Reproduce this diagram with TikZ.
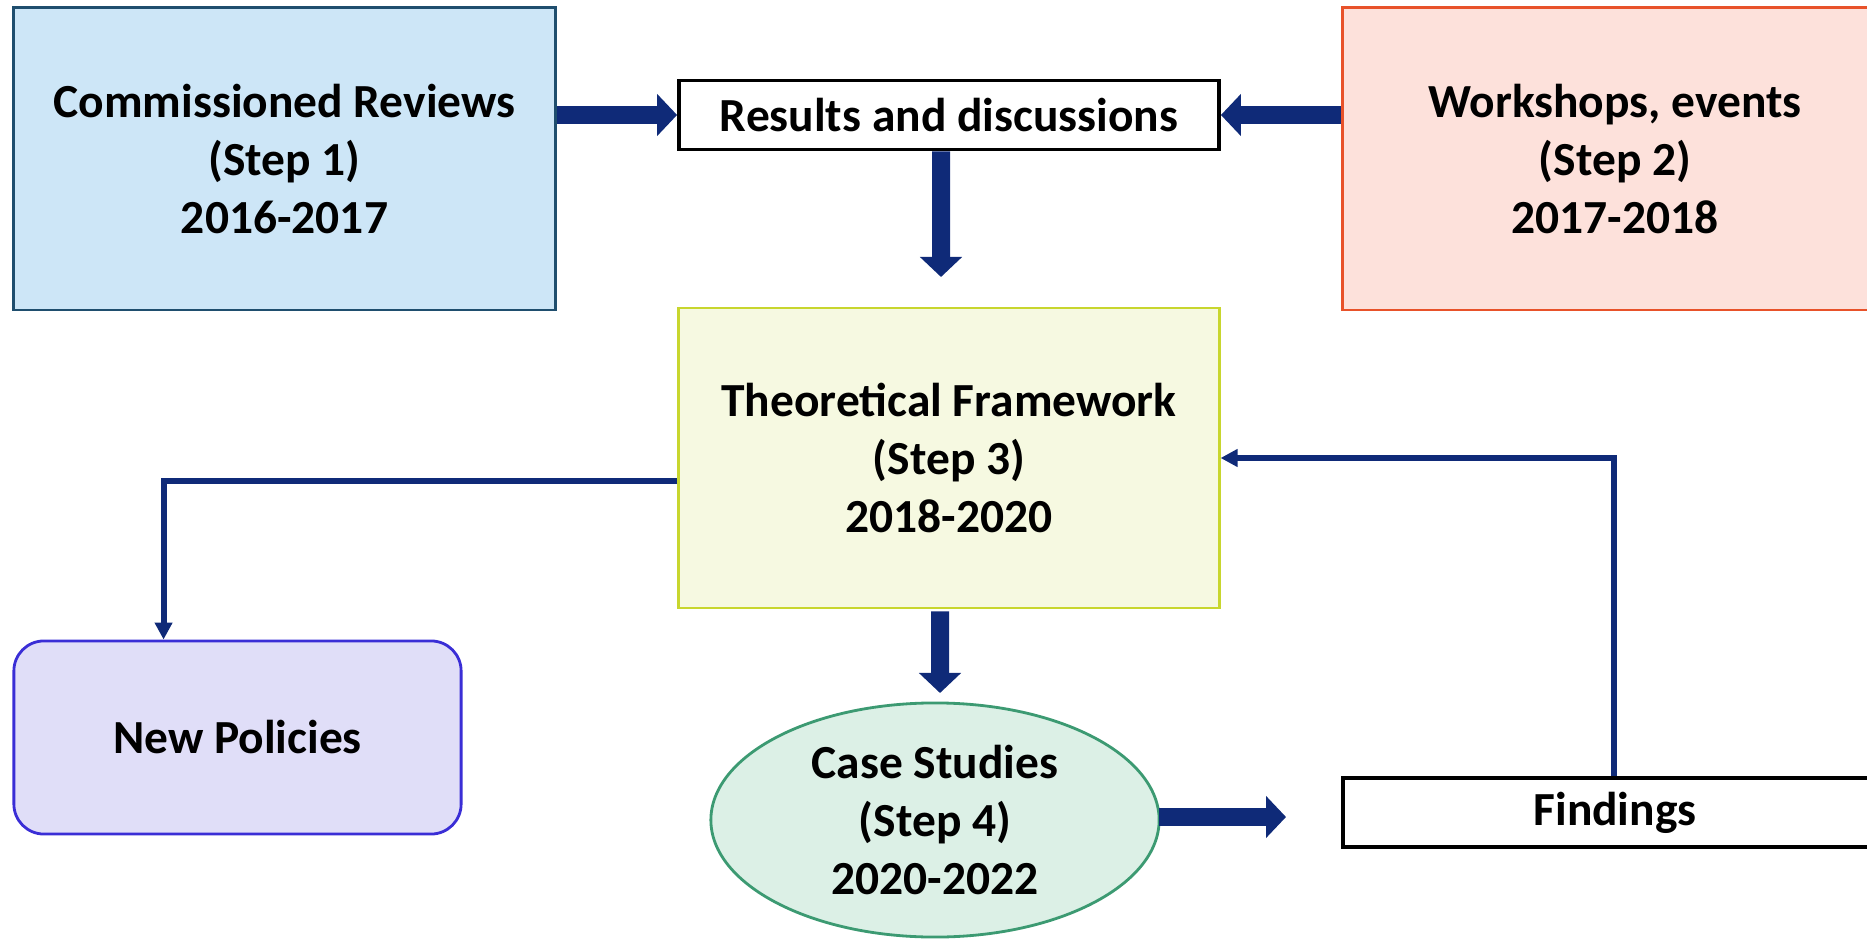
\documentclass[tikz,border=0pt]{standalone}
\usepackage{fontspec}
\setmainfont{Carlito}
\usetikzlibrary{arrows.meta,shapes.geometric,calc}
\definecolor{navy}{HTML}{0F2A78}
\definecolor{crfill}{HTML}{CDE6F7}
\definecolor{crdraw}{HTML}{1F4E6E}
\definecolor{wsfill}{HTML}{FDE1DB}
\definecolor{wsdraw}{HTML}{E8522A}
\definecolor{tffill}{HTML}{F6F9E1}
\definecolor{tfdraw}{HTML}{C8D62E}
\definecolor{npfill}{HTML}{E0DEF8}
\definecolor{npdraw}{HTML}{3A2ED6}
\definecolor{csfill}{HTML}{DCF0E6}
\definecolor{csdraw}{HTML}{3C9A72}
\tikzset{
  lbl/.style={font=\fontsize{13.5}{16.5}\selectfont\bfseries, align=center, inner sep=0pt},
  boxnode/.style={lbl, rectangle, line width=0.8pt},
  thickarrow/.style={navy, line width=0.18cm, -{Triangle[width=0.41cm,length=0.2cm]}},
  thinarrow/.style={navy, line width=0.06cm, -{Triangle[width=0.17cm,length=0.17cm]}},
}
\begin{document}
\begin{tikzpicture}[x=0.01cm,y=-0.01cm]
\useasboundingbox (0,0) rectangle (1867,940);
\clip (0,0) rectangle (1867,940);
\node[boxnode, draw=crdraw, fill=crfill, minimum width=5.41cm, minimum height=3.02cm] (cr) at (284.5,159) {Commissioned Reviews\\(Step 1)\\2016-2017};
\node[boxnode, draw=black, fill=white, line width=1pt, minimum width=5.40cm, minimum height=0.69cm] (rd) at (949,115) {Results and discussions};
\node[boxnode, draw=wsdraw, fill=wsfill, minimum width=5.44cm, minimum height=3.02cm] (ws) at (1615,159) {Workshops, events\\(Step 2)\\2017-2018};
\node[boxnode, draw=tfdraw, fill=tffill, minimum width=5.40cm, minimum height=3.00cm] (tf) at (949,458) {Theoretical Framework\\(Step 3)\\2018-2020};
\node[boxnode, draw=npdraw, fill=npfill, rounded corners=0.3cm, minimum width=4.47cm, minimum height=1.93cm] (np) at (237.5,737.5) {New Policies};
\node[lbl, ellipse, draw=csdraw, fill=csfill, line width=0.8pt, minimum width=4.48cm, minimum height=2.34cm] (cs) at (935,820) {Case Studies\\(Step 4)\\2020-2022};
\node[boxnode, draw=black, fill=white, line width=1pt, minimum width=5.44cm, minimum height=0.69cm] (fd) at (1615,812.5) {Findings};

\coordinate (rdend) at (941,277);
\coordinate (tfend) at (940,693);
\coordinate (csend) at (1286,817);

\draw[thickarrow] (cr.east |- rd.west) -- (rd.west);
\draw[thickarrow] (ws.west |- rd.east) -- (rd.east);
\draw[thickarrow] ([xshift=-0.08cm]rd.south) -- (rdend);
\draw[thickarrow] ([xshift=-0.09cm,yshift=-0.02cm]tf.south) -- (tfend);
\draw[thickarrow] ([xshift=-0.02cm]cs.east |- csend) -- (csend);
\draw[thinarrow] ([yshift=-0.23cm]tf.west) -| ([xshift=1.51cm]np.north west);
\draw[thinarrow] ([xshift=-0.01cm]fd.north) |- (tf.east);
\end{tikzpicture}
\end{document}
